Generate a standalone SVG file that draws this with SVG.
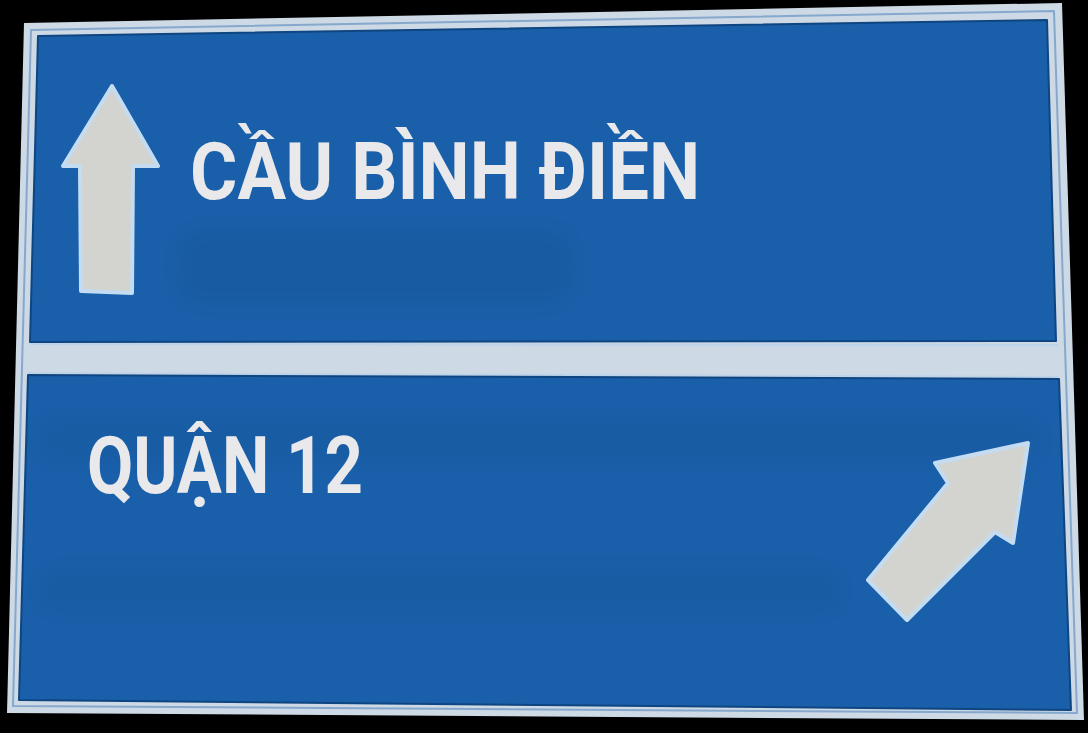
<svg xmlns="http://www.w3.org/2000/svg" width="1088" height="733" viewBox="0 0 1088 733">
  <defs>
    <style>
      .frame { fill: #cdd9e5; }
      .frameline { fill: none; stroke: #86a8cc; stroke-width: 2; stroke-linejoin: round; }
      .panel { fill: #1a5fa9; stroke: #0f4580; stroke-width: 2; stroke-linejoin: round; }
      .arrow { fill: #d3d3cf; stroke: #c4dcf2; stroke-width: 4; stroke-linejoin: round; }
      .label { fill: #e9e9eb; font-family: Roboto, "DejaVu Sans", sans-serif; font-weight: bold; }
    </style>
    <filter id="blur" x="-20%" y="-50%" width="140%" height="200%">
      <feGaussianBlur stdDeviation="10"/>
    </filter>
  </defs>
  <rect x="0" y="0" width="1088" height="733" fill="#000"/>
  <g id="sign-frame">
    <polygon class="frame" points="24,23 1062,3 1084,720 7,713"/>
    <polygon class="frameline" points="31,30 1054,11 1077,713 13,706"/>
  </g>
  <g id="panel-top">
    <polygon class="panel" points="38,36 1047,20 1056,341 30,342"/>
    <g opacity="0.07" filter="url(#blur)" fill="#06294f">
      <rect x="180" y="232" width="390" height="70" rx="20"/>
    </g>
    <polygon id="arrow-up" class="arrow" points="112,86 158,166 133,166 132,293 81,291 80,166 63,166"/>
    <text class="label" x="190" y="199" font-size="80" textLength="510" lengthAdjust="spacingAndGlyphs">CẦU BÌNH ĐIỀN</text>
  </g>
  <g id="divider">
    <line x1="30" y1="344" x2="1058" y2="345" stroke="#bcd3ea" stroke-width="2"/>
    <line x1="28" y1="373" x2="1059" y2="377" stroke="#bcd3ea" stroke-width="2"/>
  </g>
  <g id="panel-bottom">
    <polygon class="panel" points="28,375 1059,379 1071,710 19,700"/>
    <g opacity="0.05" filter="url(#blur)" fill="#06294f">
      <rect x="40" y="420" width="1000" height="40" rx="15"/>
      <rect x="40" y="570" width="800" height="40" rx="15"/>
    </g>
    <polygon id="arrow-diag" class="arrow" points="1028,443 1013,543 995,532 907,620 868,580 948,483 935,463"/>
    <text class="label" x="87" y="493" font-size="79" textLength="276" lengthAdjust="spacingAndGlyphs">QUẬN 12</text>
  </g>
</svg>
